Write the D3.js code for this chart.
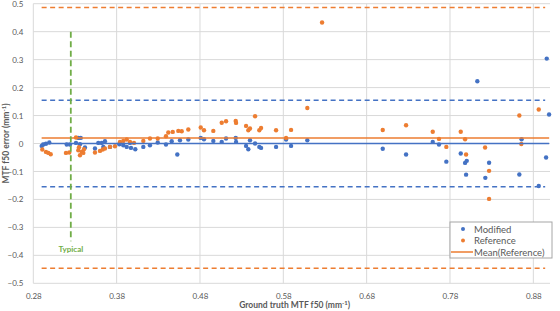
<!DOCTYPE html>
<html lang="en">
<head>
<meta charset="UTF-8">
<title>MTF f50 error</title>
<script src="https://cdn.jsdelivr.net/npm/d3@7"></script>
<style>
  body { margin: 0; background: #fff; }
  svg { display: block; font-family: Lato, "Open Sans", sans-serif; }
</style>
</head>
<body>
<svg id="chart" width="560" height="311"></svg>
<script>
// Modified series: [ground truth, error]
const modified = [
  [0.2901, -0.0086], [0.2920, -0.0036], [0.2952, -0.0007], [0.2992, 0.0036],
  [0.3201, -0.0036], [0.3240, -0.0036], [0.3312, 0.0021], [0.3340, 0.0200],
  [0.3369, 0.0200], [0.3360, -0.0025], [0.3420, -0.0143], [0.3540, -0.0179],
  [0.3580, 0.0021], [0.3621, 0.0021], [0.3640, -0.0121], [0.3660, 0.0082],
  [0.3720, -0.0121], [0.3832, -0.0025], [0.3880, -0.0061], [0.3921, -0.0121],
  [0.3960, 0.0021], [0.3972, -0.0157], [0.4024, -0.0204], [0.4120, -0.0121],
  [0.4200, -0.0061], [0.4293, 0.0036], [0.4392, -0.0036], [0.4461, 0.0082],
  [0.4528, -0.0393], [0.4560, 0.0118], [0.4660, 0.0143], [0.4809, 0.0200],
  [0.4848, 0.0154], [0.4960, 0.0093], [0.5061, 0.0057], [0.5113, 0.0179],
  [0.5229, 0.0200], [0.5233, 0.0057], [0.5353, -0.0086], [0.5380, -0.0204],
  [0.5400, 0.0118], [0.5461, 0.0000], [0.5512, -0.0121], [0.5533, -0.0157],
  [0.5713, -0.0121], [0.5833, 0.0143], [0.5893, -0.0086], [0.6088, 0.0118],
  [0.6993, -0.0186], [0.7273, -0.0393], [0.7593, 0.0057], [0.7668, -0.0036],
  [0.7756, -0.0650], [0.7929, -0.0357], [0.7981, -0.0693], [0.8001, -0.0621],
  [0.7993, -0.1114], [0.8128, 0.2225], [0.8224, -0.1229], [0.8269, -0.0686],
  [0.8632, -0.1107], [0.8659, 0.0154], [0.8865, -0.1521], [0.8953, -0.0500],
  [0.8961, 0.3036], [0.8989, 0.1036]
];

// Reference series: [ground truth, error]
const reference = [
  [0.2908, -0.0214], [0.2952, -0.0300], [0.2980, -0.0336], [0.3009, -0.0382],
  [0.3192, -0.0336], [0.3232, -0.0321], [0.3312, 0.0214], [0.3340, -0.0239],
  [0.3360, -0.0418], [0.3381, -0.0300], [0.3400, -0.0336], [0.3348, -0.0132],
  [0.3408, -0.0204], [0.3540, -0.0321], [0.3600, -0.0264], [0.3633, -0.0214],
  [0.3660, -0.0179], [0.3720, -0.0121], [0.3780, -0.0096], [0.3840, 0.0057],
  [0.3880, 0.0093], [0.3921, 0.0143], [0.3960, 0.0057], [0.4008, 0.0021],
  [0.4120, 0.0093], [0.4200, 0.0179], [0.4293, 0.0179], [0.4392, 0.0261],
  [0.4420, 0.0393], [0.4473, 0.0414], [0.4540, 0.0450], [0.4581, 0.0439],
  [0.4660, 0.0500], [0.4809, 0.0571], [0.4848, 0.0475], [0.4960, 0.0450],
  [0.5061, 0.0743], [0.5113, 0.0796], [0.5229, 0.0807], [0.5233, 0.0736],
  [0.5353, 0.0629], [0.5380, 0.0475], [0.5400, 0.0536], [0.5461, 0.0975],
  [0.5512, 0.0475], [0.5533, 0.0557], [0.5713, 0.0475], [0.5833, 0.0200],
  [0.5893, 0.0486], [0.6088, 0.1271], [0.6265, 0.4330], [0.6993, 0.0482],
  [0.7273, 0.0654], [0.7593, 0.0421], [0.7668, 0.0164], [0.7756, -0.0121],
  [0.7929, 0.0421], [0.7981, 0.0154], [0.7993, -0.0393], [0.8221, -0.0143],
  [0.8269, -0.0979], [0.8269, -0.1982], [0.8632, 0.1000], [0.8656, -0.0018],
  [0.8865, 0.1218]
];

// summary lines (mean and limits of agreement)
const lineRange = [0.29, 0.899];
const meanModified = 0.0;
const limitsModified = [0.155, -0.155];
const meanReference = 0.02;
const limitsReference = [0.486, -0.446];
const typicalX = 0.325;
const typicalRange = [0.4, -0.35];

const xTicks = [0.28, 0.38, 0.48, 0.58, 0.68, 0.78, 0.88];
const yTicks = [0.5, 0.4, 0.3, 0.2, 0.1, 0, -0.1, -0.2, -0.3, -0.4, -0.5];
const legendLabels = ["Modified", "Reference", "Mean(Reference)"];

const blue = "#4472c4";
const orange = "#ed7d31";
const green = "#70ad47";
const textGrey = "#595959";

const svg = d3.select("#chart");
const margin = { left: 33.3, right: 10, top: 3.7, bottom: 27.7 };
const width = +svg.attr("width");
const height = +svg.attr("height");

const x = d3.scaleLinear()
  .domain([0.28, 0.90])
  .range([margin.left, width - margin.right]);

const y = d3.scaleLinear()
  .domain([-0.5, 0.5])
  .range([height - margin.bottom, margin.top]);

// gridlines
svg.append("g")
  .selectAll("line")
  .data(yTicks)
  .join("line")
  .attr("x1", x(0.28)).attr("x2", x(0.90))
  .attr("y1", d => y(d)).attr("y2", d => y(d))
  .attr("stroke", "#d9d9d9").attr("stroke-width", 1);

svg.append("g")
  .selectAll("line")
  .data(xTicks)
  .join("line")
  .attr("x1", d => x(d)).attr("x2", d => x(d))
  .attr("y1", y(0.5)).attr("y2", y(-0.5))
  .attr("stroke", "#d9d9d9").attr("stroke-width", 1);

// axes (labels only)
const yAxis = svg.append("g")
  .attr("transform", `translate(${margin.left - 7},0)`)
  .call(d3.axisLeft(y).tickValues(yTicks).tickSize(0).tickFormat(d => d3.format("")(+d.toFixed(1))));
yAxis.select(".domain").remove();
yAxis.selectAll("text").attr("fill", textGrey).attr("font-size", 8).attr("font-family", "Lato, sans-serif");

const xAxis = svg.append("g")
  .attr("transform", `translate(0,${y(-0.5) + 7})`)
  .call(d3.axisBottom(x).tickValues(xTicks).tickSize(0).tickFormat(d3.format(".2f")));
xAxis.select(".domain").remove();
xAxis.selectAll("text").attr("fill", textGrey).attr("font-size", 8).attr("font-family", "Lato, sans-serif");

// axis titles
const xTitle = svg.append("text")
  .attr("x", (x(0.28) + x(0.90)) / 2 + 3)
  .attr("y", 308)
  .attr("text-anchor", "middle")
  .attr("fill", textGrey).attr("font-size", 8.5).attr("font-weight", "bold");
xTitle.append("tspan").text("Ground truth MTF f50 (mm");
xTitle.append("tspan").attr("font-size", 6).attr("dy", -3).text("-1");
xTitle.append("tspan").attr("dy", 3).text(")");

const yTitle = svg.append("text")
  .attr("transform", `translate(9,${y(0)}) rotate(-90)`)
  .attr("text-anchor", "middle")
  .attr("fill", textGrey).attr("font-size", 8.5).attr("font-weight", "bold");
yTitle.append("tspan").text("MTF f50 error (mm");
yTitle.append("tspan").attr("font-size", 6).attr("dy", -3).text("-1");
yTitle.append("tspan").attr("dy", 3).text(")");

// points
svg.append("g")
  .selectAll("circle")
  .data(modified)
  .join("circle")
  .attr("cx", d => x(d[0])).attr("cy", d => y(d[1]))
  .attr("r", 2.2).attr("fill", blue);

svg.append("g")
  .selectAll("circle")
  .data(reference)
  .join("circle")
  .attr("cx", d => x(d[0])).attr("cy", d => y(d[1]))
  .attr("r", 2.2).attr("fill", orange);

// horizontal summary lines
const hLines = [
  { v: meanModified, color: blue, dash: null, w: 1.5 },
  { v: limitsModified[0], color: blue, dash: "5,3.5", w: 1.5 },
  { v: limitsModified[1], color: blue, dash: "5,3.5", w: 1.5 },
  { v: meanReference, color: orange, dash: null, w: 1.5 },
  { v: limitsReference[0], color: orange, dash: "5,3.5", w: 1.5 },
  { v: limitsReference[1], color: orange, dash: "5,3.5", w: 1.5 }
];
svg.append("g")
  .selectAll("line")
  .data(hLines)
  .join("line")
  .attr("x1", x(lineRange[0])).attr("x2", d => d.dash ? x(lineRange[1]) - 4 : x(lineRange[1]))
  .attr("y1", d => y(d.v)).attr("y2", d => y(d.v))
  .attr("stroke", d => d.color).attr("stroke-width", d => d.w)
  .attr("stroke-dasharray", d => d.dash);

// typical line
svg.append("line")
  .attr("x1", x(typicalX)).attr("x2", x(typicalX))
  .attr("y1", y(typicalRange[0])).attr("y2", y(typicalRange[1]))
  .attr("stroke", green).attr("stroke-width", 1.8)
  .attr("stroke-dasharray", "6,3.5");

svg.append("text")
  .attr("x", x(typicalX)).attr("y", y(typicalRange[1]) + 11)
  .attr("text-anchor", "middle")
  .attr("fill", green).attr("font-size", 8).attr("font-weight", "bold")
  .text("Typical");

// legend
const legend = svg.append("g").attr("transform", "translate(450,222)");
legend.append("rect")
  .attr("width", 102).attr("height", 36)
  .attr("fill", "#fff").attr("stroke", "#a6a6a6").attr("stroke-width", 1);

const rows = legend.selectAll("g.row")
  .data(legendLabels)
  .join("g")
  .attr("class", "row")
  .attr("transform", (d, i) => `translate(0,${7 + i * 11.5})`);

rows.each(function (d, i) {
  const g = d3.select(this);
  if (i < 2) {
    g.append("circle").attr("cx", 13).attr("cy", 0).attr("r", 2)
      .attr("fill", i === 0 ? blue : orange);
  } else {
    g.append("line").attr("x1", 1).attr("x2", 23).attr("y1", 0).attr("y2", 0)
      .attr("stroke", orange).attr("stroke-width", 1.5);
  }
  g.append("text").attr("x", 24).attr("y", 3.5)
    .attr("fill", textGrey).attr("font-size", 9.5)
    .text(d);
});
</script>
</body>
</html>
